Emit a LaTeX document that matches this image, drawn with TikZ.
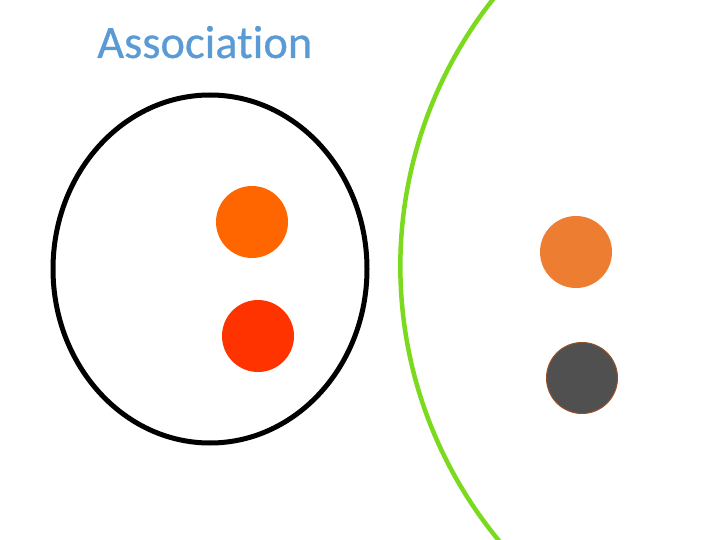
\documentclass[tikz,border=0pt]{standalone}
\usepackage{fontspec}
\setmainfont{Carlito}
\newfontfamily\titlefont[Ligatures=NoCommon, FakeBold=0.6]{Carlito}
\definecolor{titleblue}{RGB}{91,155,213}
\definecolor{arcgreen}{RGB}{124,218,30}
\definecolor{orangeA}{RGB}{255,102,0}
\definecolor{redA}{RGB}{255,51,0}
\definecolor{orangeB}{RGB}{237,125,49}
\definecolor{greyB}{RGB}{80,80,80}
\definecolor{rimB}{RGB}{150,80,40}
\begin{document}
\begin{tikzpicture}[x=1pt, y=-1pt, line join=round, line cap=round]
			\useasboundingbox (0,0) rectangle (720,540);
			\path 
			(210,269) coordinate (G)
			(828,270) coordinate (K)
			(252,222) coordinate (P)
			(258,336) coordinate (Q)
			(576,252) coordinate (R)
			(582,378) coordinate (S);
			\node[anchor=base west, inner sep=0pt, text=titleblue, font=\titlefont\fontsize{46.5}{50}\selectfont] (title) at (97,58) {Association};
			\draw[line width=5pt] (G) ellipse [x radius=157, y radius=174];
			\draw[line width=4.5pt, arcgreen] (494,-2) arc[start angle=-141.5, end angle=-219.5, radius=431];
			\fill[orangeA] (P) circle (36);
			\fill[redA] (Q) circle (36);
			\fill[orangeB] (R) circle (36);
			\filldraw[fill=greyB, draw=rimB, line width=1pt] (S) circle (35.5);
	\end{tikzpicture}
\end{document}
